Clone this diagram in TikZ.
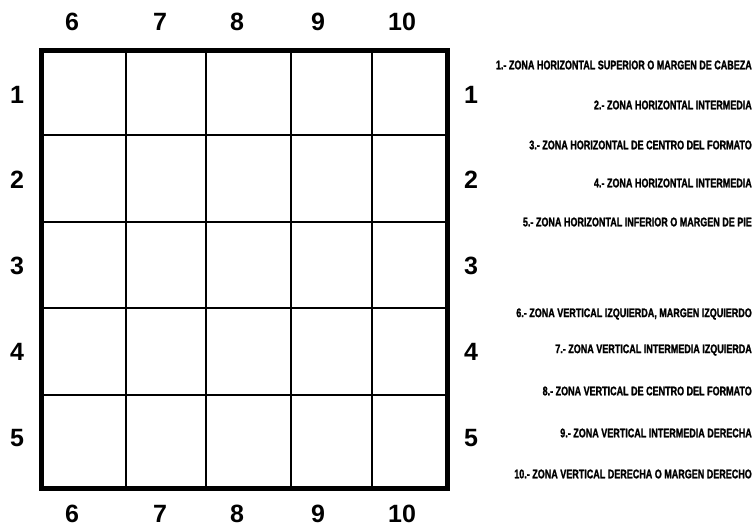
\documentclass[tikz,border=0pt]{standalone}
\usepackage{fontspec}
\setmainfont{Liberation Sans}
\newfontfamily\numfont{Liberation Sans Bold}
\newfontfamily\zonafont[FakeStretch=0.72,FakeBold=1.5]{Liberation Sans Bold}
\tikzset{
  num/.style={font=\numfont\fontsize{25}{25}\selectfont, inner sep=0pt},
  zona/.style={font=\zonafont\fontsize{12.5}{12.5}\selectfont, anchor=east, inner sep=0pt},
  outerline/.style={line width=5pt, line join=miter},
  innerline/.style={line width=2.6pt}
}
\begin{document}
\begin{tikzpicture}[x=1pt,y=-1pt]
\useasboundingbox (0,0) rectangle (755,529);
% grid
\foreach \x in {126,206,291,372} \draw[innerline] (\x,51) -- (\x,488);
\foreach \y in {135,222,308,395} \draw[innerline] (41,\y) -- (447,\y);
\draw[outerline] (41,51) rectangle (447,488);
% column labels
\foreach \n/\x in {6/72,7/160,8/237,9/318,10/402} {
  \node[num] (t\n) at (\x,22) {\n};
  \node[num] (b\n) at (\x,514) {\n};
}
% row labels
\foreach \n/\y in {1/95,2/180,3/266,4/352,5/438} {
  \node[num] (l\n) at (17,\y) {\n};
  \node[num] (r\n) at (471,\y) {\n};
}
% legend
\node[zona] (z1) at (752,65) {1.- ZONA HORIZONTAL SUPERIOR O MARGEN DE CABEZA};
\node[zona] (z2) at (752,105) {2.- ZONA HORIZONTAL INTERMEDIA};
\node[zona] (z3) at (752,145) {3.- ZONA HORIZONTAL DE CENTRO DEL FORMATO};
\node[zona] (z4) at (752,183) {4.- ZONA HORIZONTAL INTERMEDIA};
\node[zona] (z5) at (752,222) {5.- ZONA HORIZONTAL INFERIOR O MARGEN DE PIE};
\node[zona] (z6) at (752,314) {6.- ZONA VERTICAL IZQUIERDA, MARGEN IZQUIERDO};
\node[zona] (z7) at (752,350) {7.- ZONA VERTICAL INTERMEDIA IZQUIERDA};
\node[zona] (z8) at (752,391) {8.- ZONA VERTICAL DE CENTRO DEL FORMATO};
\node[zona] (z9) at (752,433) {9.- ZONA VERTICAL INTERMEDIA DERECHA};
\node[zona] (z10) at (752,474) {10.- ZONA VERTICAL DERECHA O MARGEN DERECHO};
\end{tikzpicture}
\end{document}
